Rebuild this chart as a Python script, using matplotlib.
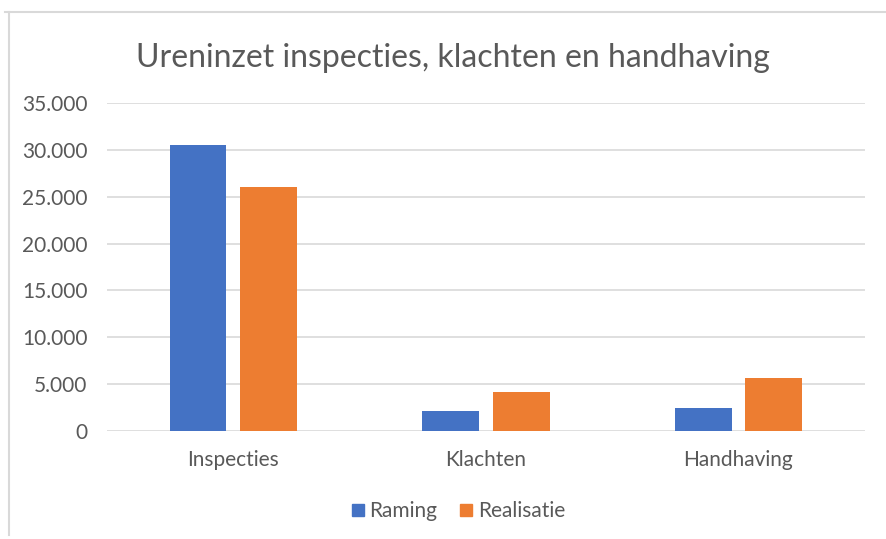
import matplotlib.pyplot as plt
from matplotlib.ticker import FuncFormatter
from matplotlib.lines import Line2D
import numpy as np

categories = ['Inspecties', 'Klachten', 'Handhaving']
raming = [30500, 2150, 2450]
realisatie = [26000, 4150, 5650]
series_names = ['Raming', 'Realisatie']
colors = ['#4472C4', '#ED7D31']
text_grey = '#595959'

plt.rcParams['font.family'] = ['Lato', 'DejaVu Sans']

fig = plt.figure(figsize=(8.86, 5.39), dpi=100)
ax = fig.add_axes([0.1208, 0.2004, 0.976 - 0.1208, 0.809 - 0.2004])

x = np.arange(len(categories))
w = 0.225
ax.bar(x - 0.14, raming, width=w, color=colors[0], label=series_names[0], zorder=3)
ax.bar(x + 0.14, realisatie, width=w, color=colors[1], label=series_names[1], zorder=3)

ax.set_xlim(-0.5, 2.5)
ax.set_ylim(0, 35000)
ax.set_yticks(np.arange(0, 35001, 5000))
ax.yaxis.set_major_formatter(FuncFormatter(lambda v, p: f'{int(v):,}'.replace(',', '.')))
ax.set_xticks(x)
ax.set_xticklabels(categories)
ax.tick_params(axis='both', length=0, labelsize=15, colors=text_grey)
ax.tick_params(axis='y', pad=14)
ax.tick_params(axis='x', pad=14)
ax.grid(axis='y', color='#D9D9D9', linewidth=1.2, zorder=0)
for s in ax.spines:
    ax.spines[s].set_visible(False)

fig.text(0.511, 0.893, 'Ureninzet inspecties, klachten en handhaving',
         ha='center', va='center', fontsize=23, color=text_grey)

handles = [Line2D([], [], marker='s', linestyle='', markersize=8, color=c) for c in colors]
fig.legend(handles, series_names, loc='center', bbox_to_anchor=(0.515, 0.052), ncol=2,
           frameon=False, fontsize=15, labelcolor=text_grey, handletextpad=0.05,
           columnspacing=0.9, handlelength=1.0)

# chart frame (left and top edges visible in the screenshot)
fig.add_artist(Line2D([9 / 886, 9 / 886], [1 - 535 / 539, 1 - 12 / 539], color='#D9D9D9', linewidth=1.5))
fig.add_artist(Line2D([5 / 886, 1], [1 - 12 / 539, 1 - 12 / 539], color='#D9D9D9', linewidth=1.5))

fig.savefig('out.png', dpi=100)
